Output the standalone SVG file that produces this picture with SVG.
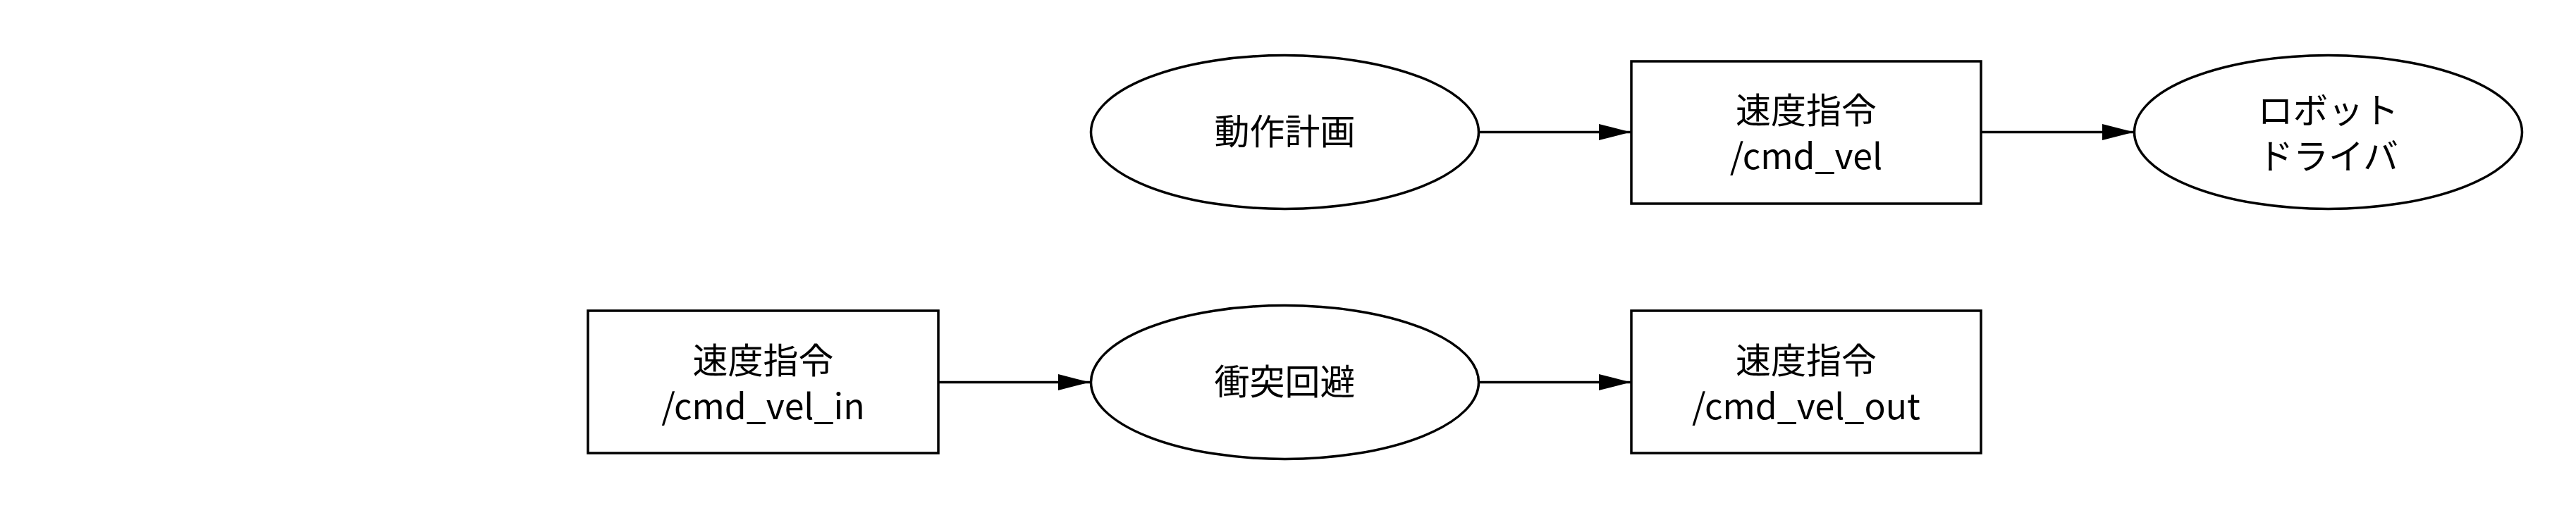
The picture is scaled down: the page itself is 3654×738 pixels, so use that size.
<svg xmlns="http://www.w3.org/2000/svg" width="3654" height="738" viewBox="0 0 3654 738">
<style>
.shape{fill:#fff;stroke:#000;stroke-width:3.5}
.edge{fill:none;stroke:#000;stroke-width:3.5}
text{font-family:"Noto Sans CJK JP","Noto Sans",sans-serif;font-size:50px;fill:#000;text-anchor:middle}
</style>
<defs>
<marker id="arr" markerUnits="userSpaceOnUse" markerWidth="46" markerHeight="24" refX="45" refY="11.5" orient="auto">
<path d="M0,0 L45,11.5 L0,23 Z" fill="#000"/>
</marker>
</defs>
<rect width="3654" height="738" fill="#fff"/>
<g id="edges">
<line class="edge" x1="2098" y1="187.5" x2="2313" y2="187.5" marker-end="url(#arr)"/>
<line class="edge" x1="2811" y1="187.5" x2="3027" y2="187.5" marker-end="url(#arr)"/>
<line class="edge" x1="1331" y1="542.5" x2="1546" y2="542.5" marker-end="url(#arr)"/>
<line class="edge" x1="2098" y1="542.5" x2="2313" y2="542.5" marker-end="url(#arr)"/>
</g>
<g id="motion_planning">
<ellipse class="shape" cx="1822.5" cy="187.5" rx="275" ry="109"/>
<text x="1822.5" y="205">動作計画</text>
</g>
<g id="cmd_vel">
<rect class="shape" x="2314" y="87" width="496" height="202"/>
<text x="2562" y="175">速度指令</text>
<text x="2562" y="240">/cmd_vel</text>
</g>
<g id="robot_driver">
<ellipse class="shape" cx="3302.5" cy="187.5" rx="275" ry="109"/>
<text x="3302.5" y="175">ロボット</text>
<text x="3302.5" y="240">ドライバ</text>
</g>
<g id="cmd_vel_in">
<rect class="shape" x="834" y="441" width="497" height="202"/>
<text x="1082.5" y="530">速度指令</text>
<text x="1082.5" y="595">/cmd_vel_in</text>
</g>
<g id="collision_avoidance">
<ellipse class="shape" cx="1822.5" cy="542.5" rx="275" ry="109"/>
<text x="1822.5" y="560">衝突回避</text>
</g>
<g id="cmd_vel_out">
<rect class="shape" x="2314" y="441" width="496" height="202"/>
<text x="2562" y="530">速度指令</text>
<text x="2562" y="595">/cmd_vel_out</text>
</g>
</svg>
